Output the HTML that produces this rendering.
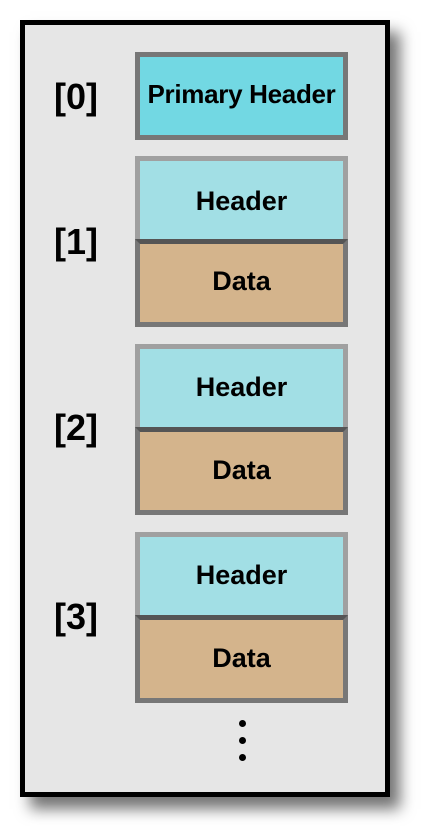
<!DOCTYPE html>
<html><head><meta charset="utf-8"><style>
body{margin:0;width:425px;height:830px;background:#fff;position:relative;overflow:hidden;font-family:"Liberation Sans","DejaVu Sans",sans-serif;}
.outer{position:absolute;left:20px;top:20px;width:360px;height:767px;border:5px solid #000;background:#e6e6e6;box-shadow:10px 12px 14px rgba(0,0,0,.55);}
.lbl{position:absolute;left:44px;width:64px;text-align:center;font-weight:bold;font-size:36px;color:#000;line-height:40px;}
.box{position:absolute;left:135px;width:203px;border:5px solid #777;}
.ph{background:#72d8e3;}
.hd{background:#a2dfe5;border-color:#a0a0a0;border-bottom:none;}
.dt{background:#d4b48c;border-top:5px solid #555;}
.t{position:absolute;left:-5px;right:-5px;text-align:center;font-weight:bold;font-size:27px;color:#000;white-space:nowrap;}
.ph .t{font-size:26px;letter-spacing:-0.3px;}
.dot{position:absolute;left:239px;width:7px;height:7px;border-radius:50%;background:#000;}
</style></head><body>
<div class="outer"></div>
<div class="lbl" style="top:77px">[0]</div>
<div class="lbl" style="top:222px">[1]</div>
<div class="lbl" style="top:408px">[2]</div>
<div class="lbl" style="top:597px">[3]</div>

<div class="box ph" style="top:52px;height:78px"><div class="t" style="top:22px">Primary Header</div></div>

<div class="box hd" style="top:156px;height:83px"><div class="t" style="top:25px">Header</div></div>
<div class="box dt" style="top:239px;height:78px"><div class="t" style="top:22px">Data</div></div>

<div class="box hd" style="top:344px;height:83px"><div class="t" style="top:23px">Header</div></div>
<div class="box dt" style="top:427px;height:78px"><div class="t" style="top:23px">Data</div></div>

<div class="box hd" style="top:532px;height:83px"><div class="t" style="top:23px">Header</div></div>
<div class="box dt" style="top:615px;height:78px"><div class="t" style="top:23px">Data</div></div>

<div class="dot" style="top:720px"></div>
<div class="dot" style="top:737px"></div>
<div class="dot" style="top:754px"></div>
</body></html>
